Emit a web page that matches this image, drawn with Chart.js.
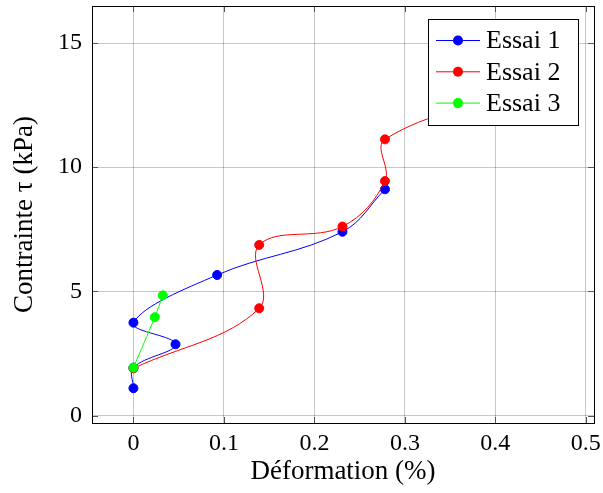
<!DOCTYPE html>
<html>
<head>
<meta charset="utf-8">
<script src="https://cdn.jsdelivr.net/npm/chart.js@4"></script>
<style>
  html, body { margin: 0; padding: 0; background: #fff; }
  #wrap { width: 603px; height: 493px; }
</style>
</head>
<body>
<div id="wrap"><canvas id="chart" width="603" height="493"></canvas></div>
<script>
// values
const essai1X = [0, 0, 0.0465, 0, 0.0925, 0.231, 0.278];
const essai1Y = [1.1, 1.93, 2.87, 3.74, 5.66, 7.40, 9.11];
const essai2X = [0, 0.139, 0.139, 0.231, 0.278, 0.278, 0.44];
const essai2Y = [1.9, 4.32, 6.87, 7.61, 9.44, 11.12, 13.2];
const essai3X = [0, 0.0236, 0.0324];
const essai3Y = [1.93, 3.96, 4.84];

const labels = ['Essai 1', 'Essai 2', 'Essai 3'];
const colors = ['#0000ff', '#ff0000', '#00ff00'];
const xTicks = [0, 0.1, 0.2, 0.3, 0.4, 0.5];
const yTicks = [0, 5, 10, 15];

const serif = "'Liberation Serif', 'Times New Roman', serif";

function points(xs, ys) {
    return xs.map((x, i) => ({x: x, y: ys[i]}));
}

function makeSet(i, xs, ys) {
    return {
        label: labels[i],
        data: points(xs, ys),
        borderColor: colors[i],
        backgroundColor: colors[i],
        pointBackgroundColor: colors[i],
        pointBorderColor: colors[i],
        borderWidth: 1,
        pointRadius: 4.5,
        pointBorderWidth: 1,
        tension: 0.38,
        order: 3 - i
    };
}

// frame + little inner ticks like pgfplots
const frame = {
    id: 'frame',
    afterDatasetsDraw(chart) {
        const {ctx, chartArea: a, scales} = chart;
        ctx.save();
        ctx.strokeStyle = '#555';
        ctx.lineWidth = 1;
        ctx.beginPath();
        xTicks.forEach(v => {
            const px = Math.round(scales.x.getPixelForValue(v)) + 0.5;
            ctx.moveTo(px, a.bottom); ctx.lineTo(px, a.bottom - 6);
            ctx.moveTo(px, a.top); ctx.lineTo(px, a.top + 6);
        });
        yTicks.forEach(v => {
            const py = Math.round(scales.y.getPixelForValue(v)) + 0.5;
            ctx.moveTo(a.left, py); ctx.lineTo(a.left + 6, py);
            ctx.moveTo(a.right, py); ctx.lineTo(a.right - 6, py);
        });
        ctx.stroke();
        ctx.strokeStyle = '#000';
        ctx.strokeRect(Math.round(a.left) + 0.5, Math.round(a.top) + 0.5,
                       Math.round(a.right - a.left), Math.round(a.bottom - a.top));
        ctx.restore();
    }
};

// legend box in the upper right corner, drawn over the lines
const boxLegend = {
    id: 'boxLegend',
    afterDraw(chart) {
        const {ctx, chartArea: a} = chart;
        const w = 150, h = 106;
        const x0 = a.right - 16 - w, y0 = a.top + 13;
        ctx.save();
        ctx.fillStyle = '#fff';
        ctx.fillRect(x0, y0, w, h);
        ctx.strokeStyle = '#000';
        ctx.lineWidth = 1;
        ctx.strokeRect(Math.round(x0) + 0.5, Math.round(y0) + 0.5, w, h);
        ctx.font = '26px ' + serif;
        ctx.textBaseline = 'middle';
        ctx.fillStyle = '#000';
        chart.data.datasets.forEach((ds, i) => {
            const cy = y0 + 21.5 + i * 31.3;
            ctx.strokeStyle = ds.borderColor;
            ctx.beginPath();
            ctx.moveTo(x0 + 8, cy);
            ctx.lineTo(x0 + 52, cy);
            ctx.stroke();
            ctx.fillStyle = ds.borderColor;
            ctx.beginPath();
            ctx.arc(x0 + 30, cy, 5, 0, Math.PI * 2);
            ctx.fill();
            ctx.fillStyle = '#000';
            ctx.fillText(ds.label, x0 + 58, cy + 1);
        });
        ctx.restore();
    }
};

new Chart(document.getElementById('chart'), {
    type: 'line',
    data: {
        datasets: [
            makeSet(0, essai1X, essai1Y),
            makeSet(1, essai2X, essai2Y),
            makeSet(2, essai3X, essai3Y)
        ]
    },
    options: {
        responsive: false,
        animation: false,
        layout: {padding: {top: 6, right: 9, left: 0, bottom: 0}},
        plugins: {legend: {display: false}, tooltip: {enabled: false}},
        scales: {
            x: {
                type: 'linear',
                min: -0.0458,
                max: 0.509,
                afterFit: s => { s.height = 70; s.paddingLeft = 0; s.paddingRight = 0; },
                afterBuildTicks: s => { s.ticks = xTicks.map(v => ({value: v})); },
                grid: {color: 'rgba(0,0,0,0.22)', drawTicks: false},
                border: {display: false},
                ticks: {
                    padding: 6,
                    color: '#000',
                    font: {family: serif, size: 24},
                    callback: v => String(v)
                },
                title: {
                    display: true,
                    text: 'Déformation (%)',
                    color: '#000',
                    font: {family: serif, size: 27},
                    padding: {top: 0, bottom: 5}
                }
            },
            y: {
                type: 'linear',
                min: -0.3,
                max: 16.49,
                afterFit: s => { s.width = 92; s.paddingTop = 0; s.paddingBottom = 0; },
                afterBuildTicks: s => { s.ticks = yTicks.map(v => ({value: v})); },
                grid: {color: 'rgba(0,0,0,0.22)', drawTicks: false},
                border: {display: false},
                ticks: {
                    padding: 10,
                    color: '#000',
                    font: {family: serif, size: 24},
                    callback: v => String(v)
                },
                title: {
                    display: true,
                    text: 'Contrainte τ (kPa)',
                    color: '#000',
                    font: {family: serif, size: 27},
                    padding: {top: 9, bottom: 0}
                }
            }
        }
    },
    plugins: [frame, boxLegend]
});
</script>
</body>
</html>
